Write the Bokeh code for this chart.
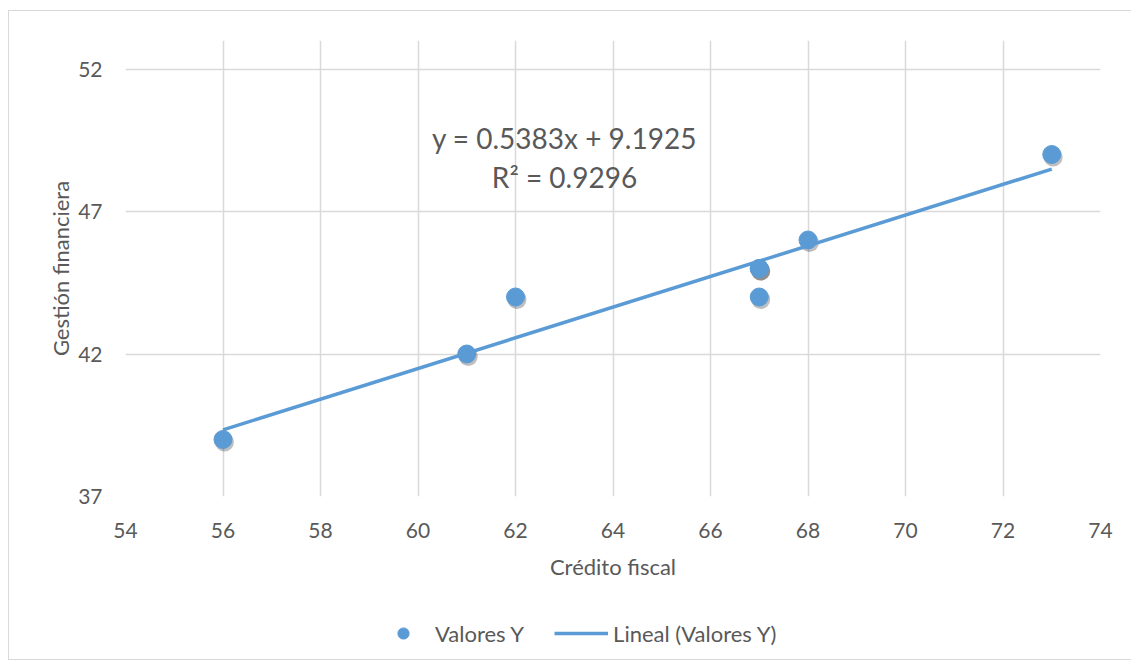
from bokeh.plotting import figure
from bokeh.layouts import column
from bokeh.models import (Legend, LegendItem, Label, FixedTicker, LinearAxis, Range1d)
from bokeh.embed import file_html
from bokeh.resources import INLINE

# Data
credito_fiscal = [56, 61, 62, 67, 67, 67, 68, 73]
gestion_financiera = [39, 42, 44, 45, 45, 44, 46, 49]
slope = 0.5383
intercept = 9.1925
r2 = 0.9296
x_ticks = [54, 56, 58, 60, 62, 64, 66, 68, 70, 72, 74]
y_ticks = [37, 42, 47, 52]

FONT = "Lato"
TXT = "#595959"
BLUE = "#5b9bd5"
GRID = "#d9d9d9"

p = figure(frame_width=975, frame_height=456, output_backend="svg", toolbar_location=None,
           x_range=Range1d(54, 74), y_range=Range1d(37, 53),
           min_border_left=116, min_border_right=31, min_border_top=29, min_border_bottom=103,
           x_axis_location=None, y_axis_location=None)
p.outline_line_color = None
p.background_fill_color = "white"
p.border_fill_color = "white"

xa = LinearAxis(ticker=FixedTicker(ticks=x_ticks), axis_label="Crédito fiscal")
ya = LinearAxis(ticker=FixedTicker(ticks=y_ticks), axis_label="Gestión financiera")
for ax in (xa, ya):
    ax.axis_line_color = None
    ax.major_tick_line_color = None
    ax.minor_tick_line_color = None
    ax.major_label_text_font = FONT
    ax.major_label_text_font_size = "21px"
    ax.major_label_text_color = TXT
    ax.axis_label_text_font = FONT
    ax.axis_label_text_font_size = "22px"
    ax.axis_label_text_color = TXT
    ax.axis_label_text_font_style = "normal"
xa.major_label_standoff = 20
xa.axis_label_standoff = 12
ya.major_label_standoff = 17
ya.axis_label_standoff = 1
p.add_layout(xa, "below")
p.add_layout(ya, "left")

p.xgrid.ticker = FixedTicker(ticks=x_ticks)
p.ygrid.ticker = FixedTicker(ticks=y_ticks)
p.xgrid.grid_line_color = GRID
p.ygrid.grid_line_color = GRID
p.xgrid.grid_line_width = 1.5
p.ygrid.grid_line_width = 1.5

# shadow
shadow_y = [v - 0.09 for v in gestion_financiera]
p.scatter([v + 0.03 for v in credito_fiscal], shadow_y, size=19, color="black", alpha=0.25, line_color=None)
pts = p.scatter(credito_fiscal, gestion_financiera, size=18, fill_color=BLUE, line_color=BLUE)

lx = [min(credito_fiscal), max(credito_fiscal)]
ly = [slope * v + intercept for v in lx]
ln = p.line(lx, ly, line_color=BLUE, line_width=3.5)

p.add_layout(Label(x=564 - 125, y=497 - 138, x_units="screen", y_units="screen",
                   text=f"y = {slope}x + {intercept}", text_align="center", text_baseline="middle",
                   text_font=FONT, text_font_size="28px", text_color=TXT))
p.add_layout(Label(x=564 - 125, y=497 - 177, x_units="screen", y_units="screen",
                   text=f"R² = {r2}", text_align="center", text_baseline="middle",
                   text_font=FONT, text_font_size="28px", text_color=TXT))

# Legend figure (renderers hold the same data, out of this small figure's view)
p2 = figure(width=1122, height=60, output_backend="svg", toolbar_location=None,
            x_range=Range1d(0, 1), y_range=Range1d(0, 1),
            min_border=0, x_axis_location=None, y_axis_location=None)
p2.outline_line_color = None
p2.grid.visible = False
lpts = p2.scatter(credito_fiscal, gestion_financiera, size=18, fill_color=BLUE, line_color=BLUE)
lln = p2.line(lx, ly, line_color=BLUE, line_width=3.5)
lg = Legend(items=[LegendItem(label="Valores Y", renderers=[lpts]),
                   LegendItem(label="Lineal (Valores Y)", renderers=[lln])],
            orientation="horizontal", location=(251, 12),
            glyph_width=54, glyph_height=28, label_text_font=FONT, label_text_font_size="22px",
            label_text_color=TXT, border_line_color=None, background_fill_alpha=0,
            padding=0, margin=0, label_standoff=5, spacing=30)
p2.add_layout(lg, "center")

layout = column(p, p2, spacing=0,
                styles={"margin-left": "8px", "margin-top": "10px", "border": "1px solid #d9d9d9"})

open("out.html", "w").write(file_html(layout, INLINE))
